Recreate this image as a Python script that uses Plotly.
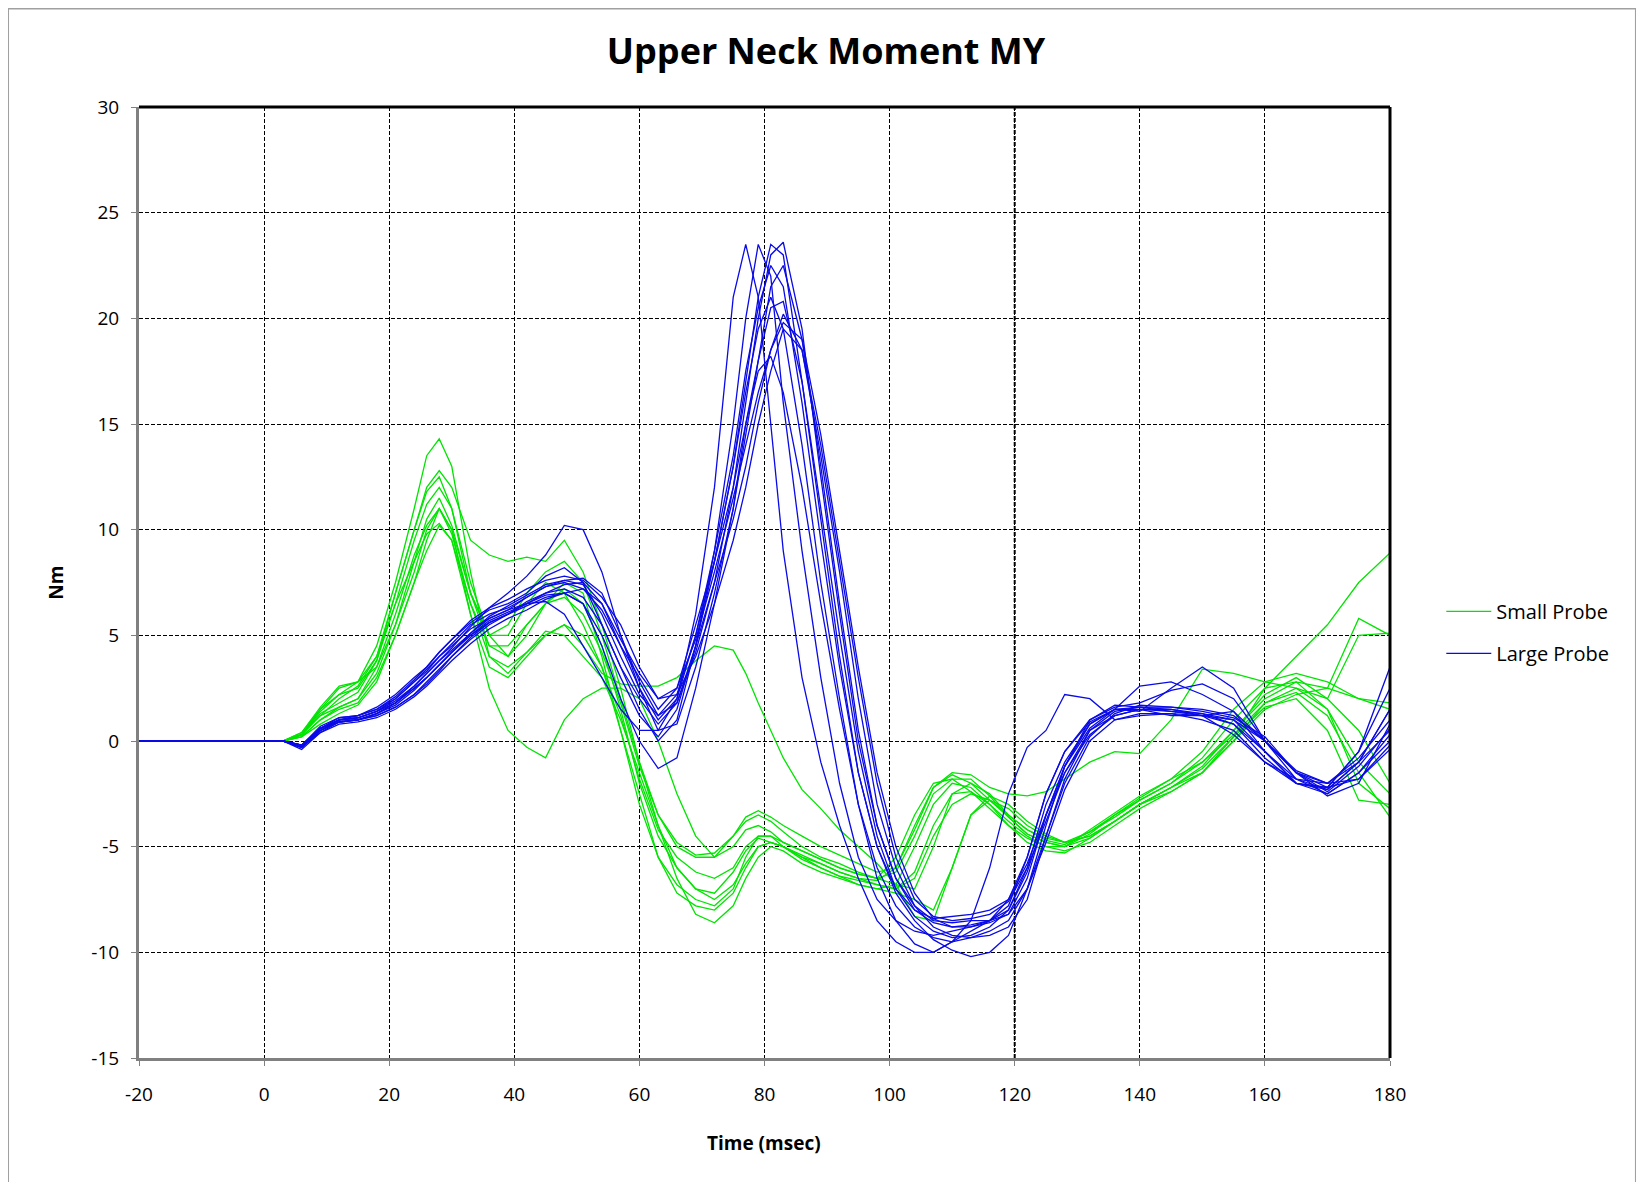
import plotly.graph_objects as go

# sample times (ms) shared by every test curve
time_ms = [-20, 3, 6, 9, 12, 15, 18, 21, 24, 26,
           28, 30, 33, 36, 39, 42, 45, 48, 51, 54,
           57, 60, 63, 66, 69, 72, 75, 77, 79, 81,
           83, 86, 89, 92, 95, 98, 101, 104, 107, 110,
           113, 116, 119, 122, 125, 128, 132, 136, 140, 145,
           150, 155, 160, 165, 170, 175, 180]

# Small Probe tests (Nm)
g1 = [0, 0, 0.4, 1.5, 2.2, 2.8, 4.5, 7.5, 11, 13.5,
      14.3, 13, 8, 4, 3.2, 4.2, 5.2, 5, 4, 3,
      1, -1.5, -4, -6.5, -8.2, -8.6, -7.8, -6.5, -5.5, -5,
      -5.2, -5.8, -6.2, -6.5, -6.8, -7, -6.8, -5, -3, -2,
      -2.2, -3, -4, -4.8, -5.2, -5.3, -4.6, -3.8, -3, -2.2,
      -1.5, 0, 1.8, 2.5, 1.5, -1, -2.5]
g2 = [0, 0, 0.3, 1.2, 2, 2.6, 4, 7, 10, 12,
      12.8, 12, 9.5, 8.8, 8.5, 8.7, 8.5, 9.5, 8, 5.5,
      2.5, -1, -4, -6, -7, -7.2, -6.2, -5.2, -4.6, -4.8,
      -5, -5.4, -5.8, -6.2, -6.5, -6.6, -6, -4, -2.2, -1.6,
      -2, -2.8, -3.6, -4.4, -4.8, -5, -4.4, -3.5, -2.8, -2,
      -1, 0.5, 2, 2.8, 2.5, 2, 1.5]
g3 = [0, 0, 0.2, 1, 1.5, 1.8, 3, 5, 7.5, 9.5,
      11, 10, 6, 2.5, 0.5, -0.3, -0.8, 1, 2, 2.5,
      2.5, 2, 0, -2.5, -4.5, -5.5, -5, -4.2, -4, -4.3,
      -4.8, -5.2, -5.6, -6, -6.3, -6.5, -5.5, -3.5, -2, -1.8,
      -2.4, -3.2, -4, -4.6, -5, -5.2, -4.8, -4, -3.2, -2.4,
      -1.5, 0, 1.5, 2.2, 2.5, 5.8, 5]
g4 = [0, 0, 0.3, 1.4, 2.2, 2.5, 3.8, 6.5, 8.5, 9.8,
      10.3, 9.5, 6.5, 4, 3.5, 4.2, 5, 5.5, 4.5, 3.2,
      2.7, 2.6, 2.6, 3, 3.8, 4.5, 4.3, 3.2, 1.8, 0.5,
      -0.8, -2.3, -3.2, -4.2, -5, -5.8, -6.8, -8.3, -8.5, -6,
      -3.5, -2.8, -3.2, -4, -4.5, -4.8, -4.5, -3.8, -3, -2.2,
      -1.3, 0.2, 2.5, 4, 5.5, 7.5, 8.9]
g5 = [0, 0, 0.3, 1.3, 1.8, 2.3, 3.8, 7, 10, 11.8,
      12.5, 11, 7, 5, 5.5, 7, 8, 8.5, 7.5, 5,
      2, -1, -3.5, -5, -5.5, -5.5, -4.5, -3.8, -3.5, -3.8,
      -4.3, -5, -5.5, -5.8, -6.2, -6.5, -6.8, -7, -5, -2.5,
      -2, -2.5, -3.5, -4.2, -4.6, -4.8, -4.3, -3.6, -2.8, -2,
      -0.8, 1, 2.5, 2.8, 1.5, -2, -3.2]
g6 = [0, 0, 0.2, 1, 1.6, 2, 3.2, 5.5, 8.5, 10.5,
      11.5, 10.2, 7, 4.5, 4, 5.5, 6.5, 7.2, 6.5, 4.5,
      1.5, -2, -4.5, -6, -7, -7.5, -6.8, -5.8, -5, -4.8,
      -5, -5.5, -6, -6.4, -6.6, -6.8, -7, -6.2, -4, -2.5,
      -2.4, -3, -3.8, -4.5, -5, -5, -4.2, -3.4, -2.6, -1.8,
      -1, 0.3, 1.8, 2.3, 1.2, -1.5, -3.6]
g7 = [0, 0, 0.2, 0.8, 1.3, 1.7, 2.8, 5, 7.5, 9,
      10.2, 9.5, 6, 3.5, 3, 4, 5, 5.5, 5, 3.5,
      1.2, -1.8, -4.2, -5.5, -6.2, -6.5, -6, -5, -4.5, -4.5,
      -4.8, -5.2, -5.6, -6, -6.3, -6.5, -6.2, -4.5, -2.5, -1.8,
      -1.8, -2.6, -3.6, -4.4, -4.8, -5, -4.6, -3.8, -3, -2.2,
      -1.2, 0.5, 2.2, 3, 2, 0.5, -2]
g8 = [0, 0, 0.4, 1.6, 2.6, 2.8, 4, 6.5, 9.5, 11.2,
      12, 11, 7.5, 5, 5, 6.5, 7.5, 7, 5.5, 3.5,
      0.5, -2.5, -5.5, -7.2, -7.8, -8, -7.2, -6, -5, -4.8,
      -5, -5.5, -5.8, -6.2, -6.5, -6.8, -7, -6.5, -4.5, -3,
      -2.5, -2.8, -3.5, -4.2, -4.7, -4.9, -4.3, -3.5, -2.7, -1.8,
      -0.5, 1.5, 2.8, 3.2, 2.8, 2, 1.8]
g9 = [0, 0, 0.3, 1.2, 1.6, 2, 3.5, 6, 8.8, 10.2,
      11, 9.8, 6.5, 4.5, 4.5, 5.5, 6.5, 6.8, 6, 4.2,
      1.8, -1.2, -3.5, -4.8, -5.4, -5.3, -4.5, -3.6, -3.3, -3.6,
      -4, -4.5, -5, -5.4, -5.8, -6.2, -6, -4.2, -2.2, -1.5,
      -1.6, -2.2, -2.5, -2.6, -2.4, -1.8, -1, -0.5, -0.6, 1,
      3.4, 3.2, 2.8, 2.5, 2, 5, 5.1]
g10 = [0, 0, 0.3, 1.5, 2.5, 2.8, 3.5, 5.5, 8, 10,
       11, 10, 7, 5, 4, 5, 6.5, 7.5, 7, 4,
       0.5, -3, -5.5, -6.8, -7.5, -7.8, -7, -5.5, -4.5, -4.5,
       -5, -5.6, -6, -6.4, -6.8, -7, -7.2, -7.5, -8, -6,
       -3.5, -2.6, -3, -3.8, -4.4, -4.8, -4.5, -3.8, -3, -2.4,
       -1.5, 0.2, 1.6, 2, 0.5, -2.8, -3]

# Large Probe tests (Nm)
b1 = [0, 0, -0.3, 0.6, 1, 1.1, 1.4, 2, 2.8, 3.4,
      4, 4.5, 5.3, 5.8, 6.2, 6.5, 6.6, 6, 4.5, 3,
      1.5, 0.5, 0.5, 2, 6, 12, 21, 23.5, 21, 15,
      9, 3, -1, -4, -6.5, -8.5, -9.5, -10, -10, -9.5,
      -8.5, -6, -2.5, -0.3, 0.5, 2.2, 2, 1, 1.2, 1.3,
      1, 0.5, -1, -2, -2.3, -1, 0.5]
b2 = [0, 0, -0.3, 0.5, 1, 1, 1.3, 1.8, 2.5, 3,
      3.6, 4.2, 5, 5.6, 6, 6.5, 7, 7.4, 7.5, 6.5,
      4.5, 2.5, 1, 2, 5, 8.5, 13, 17, 21, 23.5,
      23, 17, 10.5, 4, -1.5, -5, -7, -8.3, -9, -9.3,
      -9.2, -8.8, -8, -6, -3, -1, 0.8, 1.5, 1.6, 1.4,
      1.3, 1, -0.5, -1.8, -2.3, -1, 1.5]
b3 = [0, 0, -0.2, 0.7, 1.1, 1.2, 1.6, 2.2, 3, 3.5,
      4.2, 4.8, 5.6, 6.2, 6.5, 7, 7.8, 8.2, 7.5, 5.5,
      3.5, 1.5, 0, 1, 4.5, 9, 15, 20, 23.5, 22,
      16, 9, 3, -2, -5.5, -7.5, -8.5, -9, -9.2, -9,
      -8.8, -8.5, -7.8, -5.5, -2.5, -0.5, 1, 1.6, 1.8, 2.4,
      2.7, 2, 0, -1.8, -2.5, -1.5, 0]
b4 = [0, 0, -0.4, 0.4, 0.9, 1, 1.3, 1.8, 2.6, 3.2,
      3.8, 4.4, 5.4, 6.3, 7, 7.8, 8.8, 10.2, 10, 8,
      5, 2.5, 0.5, 0.8, 3.5, 7, 11, 14.5, 18, 21.5,
      22.5, 19, 13, 6.5, 0.5, -4, -6.5, -7.8, -8.5, -8.6,
      -8.5, -8.5, -8.2, -6.5, -3.5, -1.2, 0.8, 1.5, 1.5, 1.2,
      1.2, 1.4, -0.5, -2, -2.2, -0.5, 2.5]
b5 = [0, 0, -0.2, 0.6, 1, 1.2, 1.5, 2, 2.8, 3.3,
      4, 4.6, 5.5, 6, 6.3, 6.8, 7.3, 7.5, 7.2, 6.2,
      4.5, 3, 1.5, 2.5, 5.5, 8.5, 12, 15, 18, 20.5,
      20.8, 17, 11, 5, -0.5, -4.5, -7, -8, -8.4, -8.3,
      -8.2, -8, -7.5, -5.8, -3.5, -1.5, 0.5, 1.2, 1.5, 1.5,
      1.2, 0.3, -1, -1.8, -2, -0.8, 1]
b6 = [0, 0, -0.3, 0.5, 0.9, 1, 1.2, 1.6, 2.2, 2.7,
      3.3, 4, 4.8, 5.5, 6, 6.6, 7, 7.2, 6.8, 5.5,
      3.5, 2, 0.8, 1.8, 4.5, 7.5, 10.5, 13, 16, 18.5,
      20.2, 18.5, 13.5, 8, 2, -3, -6, -7.8, -8.8, -9.2,
      -9.3, -9.2, -8.8, -7.5, -4.5, -1.8, 0.5, 1.4, 1.6, 1.6,
      1.5, 1.2, 0, -1.5, -2.2, -1.8, -0.2]
b7 = [0, 0, -0.2, 0.6, 1.1, 1.2, 1.5, 2.1, 2.9, 3.5,
      4.2, 4.8, 5.7, 6.3, 6.7, 7.2, 7.6, 7.8, 7.6, 6.8,
      5.5, 3.5, 2, 2.2, 4, 6.5, 9.5, 12, 15, 17.5,
      19.5, 18.5, 14, 8.5, 3, -2, -5.5, -7.5, -8.3, -8.5,
      -8.4, -8.2, -7.6, -6, -3.8, -1.5, 0.3, 1.2, 1.5, 1.4,
      1.2, 0.8, -0.5, -2, -2.5, -1.5, 0.3]
b8 = [0, 0, -0.3, 0.4, 0.8, 0.9, 1.1, 1.5, 2.1, 2.6,
      3.2, 3.8, 4.6, 5.3, 5.8, 6.2, 6.7, 7, 6.5, 4.5,
      2, 0, -1.3, -0.8, 2.5, 6.5, 11, 15, 17.5, 18.2,
      16.5, 12, 6.5, 1.5, -3, -6, -7.8, -8.8, -9.3, -9.5,
      -9.3, -9, -8.5, -7, -4, -1.2, 1, 1.7, 1.6, 1.5,
      1.3, 0.8, -0.8, -2, -2.2, -0.5, 3.5]
b9 = [0, 0, -0.3, 0.5, 1, 1.1, 1.4, 1.9, 2.6, 3.2,
      3.8, 4.3, 5.1, 5.8, 6.2, 6.8, 7.3, 7.6, 7.4, 6,
      4, 2.2, 1.2, 2.2, 5, 9, 13.5, 17.5, 20.5, 22.5,
      21.5, 16, 9.5, 3.5, -1.5, -5, -7.2, -8.5, -9.4, -9.9,
      -10.2, -10, -9.2, -7, -4.5, -2, 0.2, 1.3, 1.7, 1.6,
      1.4, 1.1, 0.2, -1.5, -2.4, -1.2, 0.6]
b10 = [0, 0, -0.2, 0.6, 1, 1.1, 1.4, 1.8, 2.5, 3,
       3.6, 4.2, 5.1, 5.9, 6.4, 6.9, 7.4, 7.6, 7.7, 7,
       5, 2.8, 1.2, 1.8, 4.2, 7.5, 12, 16, 20, 23,
       23.6, 19.5, 12.5, 6, 0, -4, -6.5, -8, -8.6, -8.8,
       -8.7, -8.5, -8, -6.2, -3.5, -1.2, 0.6, 1.5, 2.6, 2.8,
       2.2, 1.4, 0, -1.4, -2, -1, 1.5]
b11 = [0, 0, -0.3, 0.5, 0.9, 1, 1.3, 1.7, 2.4, 3,
       3.6, 4.2, 5, 5.7, 6.1, 6.5, 6.9, 7, 6.5, 5,
       3, 1.2, 0.2, 1.5, 4.5, 8.5, 13, 16.5, 19.5, 21,
       19.5, 14, 7.5, 2, -3, -6.5, -8.5, -9.6, -10, -9.5,
       -9, -8.5, -7.5, -5.5, -2.5, -0.5, 0.9, 1.5, 1.4, 2.5,
       3.5, 2.5, 0, -1.5, -2, -1.8, -0.4]
b12 = [0, 0, -0.2, 0.5, 0.9, 1, 1.2, 1.6, 2.2, 2.8,
       3.4, 4, 4.9, 5.6, 6, 6.4, 6.8, 7, 7.2, 6.5,
       4.8, 3.2, 2, 2.5, 4.8, 8, 11.5, 14, 16.5, 18.5,
       19.8, 19, 14.5, 9, 3.5, -1.5, -5, -7.2, -8.4, -8.8,
       -8.8, -8.6, -8.2, -7, -4.8, -2.3, 0, 1, 1.3, 1.3,
       1.2, 1, 0, -1.5, -2.6, -2, 0.8]

small_probe = [g1, g2, g3, g4, g5, g6, g7, g8, g9, g10]
large_probe = [b1, b2, b3, b4, b5, b6, b7, b8, b9, b10, b11, b12]

x_ticks = [-20, 0, 20, 40, 60, 80, 100, 120, 140, 160, 180]
x_labels = ["-20", "0", "20", "40", "60", "80", "100", "120", "140", "160", "180"]
y_ticks = [-15, -10, -5, 0, 5, 10, 15, 20, 25, 30]
y_labels = ["-15", "-10", "-5", "0", "5", "10", "15", "20", "25", "30"]

GREEN = "#00E400"
BLUE = "#0A0AE6"
FONT = "Open Sans, Noto Sans, sans-serif"

fig = go.Figure()

for i, ys in enumerate(small_probe):
    fig.add_trace(go.Scatter(
        x=time_ms, y=ys, mode="lines", name="Small Probe",
        legendgroup="small", showlegend=(i == 0),
        line=dict(color=GREEN, width=1.3)
    ))

for i, ys in enumerate(large_probe):
    fig.add_trace(go.Scatter(
        x=time_ms, y=ys, mode="lines", name="Large Probe",
        legendgroup="large", showlegend=(i == 0),
        line=dict(color=BLUE, width=1.3)
    ))

axis_common = dict(
    showgrid=True, gridcolor="black", gridwidth=1, griddash="4px,2px",
    zeroline=False, showline=True, linecolor="#808080", linewidth=3,
    ticks="outside", tickcolor="#808080", ticklen=5,
    tickfont=dict(family=FONT, size=19, color="black"),
)

fig.update_xaxes(range=[-20, 180], tickvals=x_ticks, ticktext=x_labels,
                 ticklabelstandoff=12, **axis_common)
fig.update_yaxes(range=[-15, 30], tickvals=y_ticks, ticktext=y_labels,
                 ticklabelstandoff=8, **axis_common)

# black frame on top/right of the plot area, outer chart border
fig.add_shape(type="line", xref="paper", yref="paper", x0=0, x1=1, y0=1, y1=1,
              line=dict(color="black", width=3))
fig.add_shape(type="line", xref="paper", yref="paper", x0=1, x1=1, y0=0, y1=1,
              line=dict(color="black", width=3))
fig.add_shape(type="rect", xref="paper", yref="paper",
              x0=-0.1047, x1=1.1966, y0=-0.14, y1=1.1035,
              line=dict(color="#A0A0A0", width=2), layer="below")
# the 120 ms gridline is drawn heavier in the original
fig.add_shape(type="line", xref="x", yref="paper", x0=120, x1=120, y0=0, y1=1,
              line=dict(color="black", width=2, dash="4px,2px"), layer="below")

fig.add_annotation(text="<b>Nm</b>", xref="paper", yref="paper", x=-0.067, y=0.5,
                   textangle=-90, showarrow=False, xanchor="center", yanchor="middle",
                   font=dict(family=FONT, size=19, color="black"))
fig.add_annotation(text="<b>Time (msec)</b>", xref="paper", yref="paper", x=0.4995, y=-0.089,
                   showarrow=False, xanchor="center", yanchor="middle",
                   font=dict(family=FONT, size=19, color="black"))

fig.update_layout(
    width=1644, height=1182,
    margin=dict(l=131, r=262, t=99, b=132),
    paper_bgcolor="white", plot_bgcolor="white",
    title=dict(text="<b>Upper Neck Moment MY</b>", x=0.4976, xanchor="center",
               y=0.963, yanchor="middle",
               font=dict(family=FONT, size=36, color="black")),
    legend=dict(x=1.041, y=0.4476, xanchor="left", yanchor="middle",
                font=dict(family=FONT, size=20, color="black"),
                itemwidth=45, tracegroupgap=13, bgcolor="rgba(0,0,0,0)"),
    showlegend=True,
)

fig.write_html("out.html")
